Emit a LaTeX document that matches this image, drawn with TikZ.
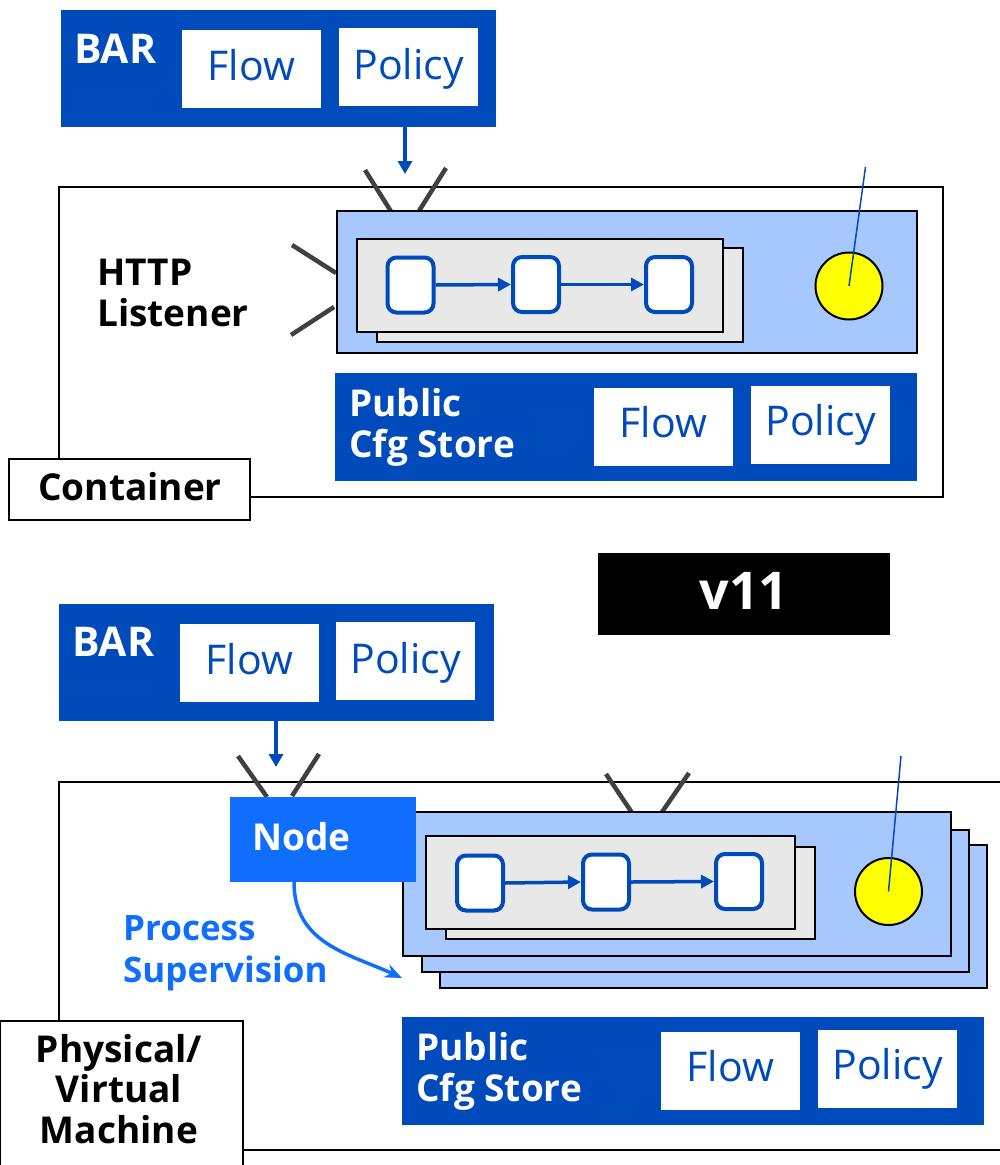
\documentclass[tikz,border=0pt]{standalone}
\usepackage{fontspec}
\setmainfont{Open Sans}
\usetikzlibrary{arrows.meta}
\definecolor{dblue}{RGB}{0,75,187}
\definecolor{nblue}{RGB}{16,110,255}
\definecolor{lblue}{RGB}{166,200,255}
\definecolor{lgray}{RGB}{232,232,232}
\definecolor{agray}{RGB}{64,64,64}
\definecolor{ylw}{RGB}{255,255,0}
\begin{document}
\begin{tikzpicture}[x=1pt,y=-1pt,
  rect/.style={rectangle, inner sep=0pt, outer sep=0pt, anchor=north west},
  darkbox/.style={rect, fill=dblue},
  whitebox/.style={rect, fill=white},
  outline/.style={rect, draw=black, line width=2pt, fill=white},
  lbox/.style={rect, draw=black, line width=2.5pt, fill=lblue},
  gbox/.style={rect, draw=black, line width=2pt, fill=lgray},
  rbox/.style={rectangle, draw=dblue, line width=4pt, fill=white, rounded corners=9pt, minimum width=46pt, minimum height=55pt, inner sep=0pt},
  ybox/.style={circle, draw=black, line width=2pt, fill=ylw, minimum size=67pt, inner sep=0pt},
  antenna/.style={draw=agray, line width=4.5pt},
  bold/.style={font=\bfseries\fontsize{37}{41}\selectfont, inner sep=0pt},
  big/.style={font=\bfseries\fontsize{41}{45}\selectfont},
  wtxt/.style={bold, text=white},
  ktxt/.style={bold, text=black},
  ntxt/.style={bold, font=\bfseries\fontsize{35}{41}\selectfont, text=nblue},
  btxt/.style={font=\fontsize{41}{48}\selectfont, text=dblue, inner sep=0pt, anchor=base},
  arr/.style={draw=dblue, line width=3.5pt, -{Triangle[width=14pt,length=13pt]}},
  sarr/.style={draw=dblue, line width=3.5pt, -{Triangle[width=13pt,length=13pt]}},
  thin/.style={draw=dblue, line width=1.5pt}
]
\useasboundingbox (0,0) rectangle (1000,1165);
\clip (0,0) rectangle (1000,1165);

% ================= TOP: Container =================
\node[darkbox, minimum width=435pt, minimum height=117pt] (bar1) at (61,10) {};
\node[wtxt, big, anchor=base west] (bar1t) at (74,63) {BAR};
\node[whitebox, minimum width=139pt, minimum height=78pt] (flow1) at (182,30) {};
\node[btxt] (flow1t) at (251.5,80) {Flow};
\node[whitebox, minimum width=139pt, minimum height=78pt] (pol1) at (339,28) {};
\node[btxt] (pol1t) at (408.5,79) {Policy};

\node[outline, fill=none, minimum width=884pt, minimum height=310pt] (cont) at (59,187) {};

\coordinate (a1) at (405,174);
\draw[arr] (bar1.south -| a1) -- (a1);

\coordinate (t1a) at (365,170); \coordinate (t1b) at (392,213);
\coordinate (t1c) at (446,168); \coordinate (t1d) at (419,211);
\draw[antenna] (t1a) -- (t1b);
\draw[antenna] (t1c) -- (t1d);
\coordinate (l1a) at (292,245); \coordinate (l1b) at (336,273);
\coordinate (l1c) at (291,335); \coordinate (l1d) at (334,307);
\draw[antenna] (l1a) -- (l1b);
\draw[antenna] (l1c) -- (l1d);

\node[lbox, minimum width=580pt, minimum height=142pt] (ms1) at (337,211) {};
\node[gbox, minimum width=366pt, minimum height=94pt] (g1b) at (377,248) {};
\node[gbox, minimum width=366pt, minimum height=93pt] (g1f) at (357,239) {};
\node[rbox] (r11) at (410.5,285) {};
\node[rbox] (r12) at (536,284.5) {};
\node[rbox] (r13) at (669,284.5) {};
\draw[sarr] (r11.east) -- (r12.west);
\draw[sarr] (r12.east) -- (r13.west);
\node[ybox] (y1) at (849,286) {};
\coordinate (p1) at (865.5,167);
\draw[thin] (p1) -- (y1.center);

\node[ktxt, anchor=base west] (http1) at (97,285) {HTTP};
\node[ktxt, anchor=base west] (http2) at (97,326) {Listener};

\node[darkbox, minimum width=582pt, minimum height=108pt] (cs1) at (335,373) {};
\node[wtxt, anchor=base west] (cs1a) at (349,416) {Public};
\node[wtxt, anchor=base west] (cs1b) at (349,457) {Cfg Store};
\node[whitebox, minimum width=139pt, minimum height=78pt] (cf1) at (594,388) {};
\node[btxt] (cf1t) at (663.5,437) {Flow};
\node[whitebox, minimum width=139pt, minimum height=78pt] (cp1) at (751,386) {};
\node[btxt] (cp1t) at (820.5,435) {Policy};

\node[outline, minimum width=241pt, minimum height=61pt] (contl) at (9,459) {};
\node[ktxt, anchor=base] (contlt) at (130,500) {Container};

% ================= v11 =================
\node[rect, fill=black, minimum width=292pt, minimum height=82pt] (v11) at (598,553) {};
\node[wtxt, font=\bfseries\fontsize{52}{56}\selectfont, anchor=base] (v11t) at (744,609) {v11};

% ================= BOTTOM: Machine =================
\node[darkbox, minimum width=435pt, minimum height=117pt] (bar2) at (59,604) {};
\node[wtxt, big, anchor=base west] (bar2t) at (72,656) {BAR};
\node[whitebox, minimum width=139pt, minimum height=78pt] (flow2) at (180,624) {};
\node[btxt] (flow2t) at (249.5,674) {Flow};
\node[whitebox, minimum width=139pt, minimum height=78pt] (pol2) at (336,622) {};
\node[btxt] (pol2t) at (405.5,673) {Policy};

\node[outline, fill=none, minimum width=960pt, minimum height=368pt] (mach) at (59,782) {};

\coordinate (a2) at (276,767);
\draw[arr] (bar2.south -| a2) -- (a2);

\coordinate (t2a) at (238,756); \coordinate (t2b) at (267,797);
\coordinate (t2c) at (319,754); \coordinate (t2d) at (292,796);
\draw[antenna] (t2a) -- (t2b);
\draw[antenna] (t2c) -- (t2d);
\coordinate (t3a) at (606,774); \coordinate (t3b) at (631.5,812);
\coordinate (t3c) at (689,773); \coordinate (t3d) at (662,812);
\draw[antenna] (t3a) -- (t3b);
\draw[antenna] (t3c) -- (t3d);

\node[lbox, minimum width=547pt, minimum height=143pt] (ms2c) at (440,845) {};
\node[lbox, minimum width=547pt, minimum height=142pt] (ms2b) at (422,830) {};
\node[lbox, minimum width=548pt, minimum height=144pt] (ms2a) at (403,812) {};
\node[gbox, minimum width=369pt, minimum height=92pt] (g2b) at (446,847) {};
\node[gbox, minimum width=369pt, minimum height=93pt] (g2f) at (426,836) {};
\node[rbox] (r21) at (480,883) {};
\node[rbox] (r22) at (606,882) {};
\node[rbox] (r23) at (739,881.5) {};
\draw[sarr] (r21.east) -- (r22.west);
\draw[sarr] (r22.east) -- (r23.west);
\node[ybox] (y2) at (888.5,891.5) {};
\coordinate (p2) at (901,756);
\draw[thin] (p2) -- (y2.center);

\node[rect, fill=nblue, minimum width=186pt, minimum height=85pt] (nd) at (230,797) {};
\node[wtxt, anchor=base west] (ndt) at (252,850) {Node};

\coordinate (ps) at (294,882);
\coordinate (pe) at (402,978);
\draw[draw=nblue, line width=3.5pt, -{Stealth[length=17pt,width=14pt]}]
  (nd.south -| ps) .. controls +(0,62) and +(-52,-24) .. (pe);
\node[ntxt, anchor=base west] (ps1) at (123,940) {Process};
\node[ntxt, anchor=base west] (ps2) at (123,982) {Supervision};

\node[darkbox, minimum width=582pt, minimum height=108pt] (cs2) at (402,1017) {};
\node[wtxt, anchor=base west] (cs2a) at (416,1060) {Public};
\node[wtxt, anchor=base west] (cs2b) at (416,1101) {Cfg Store};
\node[whitebox, minimum width=139pt, minimum height=78pt] (cf2) at (661,1032) {};
\node[btxt] (cf2t) at (730.5,1081) {Flow};
\node[whitebox, minimum width=139pt, minimum height=78pt] (cp2) at (818,1030) {};
\node[btxt] (cp2t) at (887.5,1079) {Policy};

\node[outline, minimum width=243pt, minimum height=160pt] (machl) at (0,1021) {};
\node[ktxt, anchor=base] (ml1) at (119,1062) {Physical/};
\node[ktxt, anchor=base] (ml2) at (119,1102) {Virtual};
\node[ktxt, anchor=base] (ml3) at (119,1143) {Machine};
\end{tikzpicture}
\end{document}
